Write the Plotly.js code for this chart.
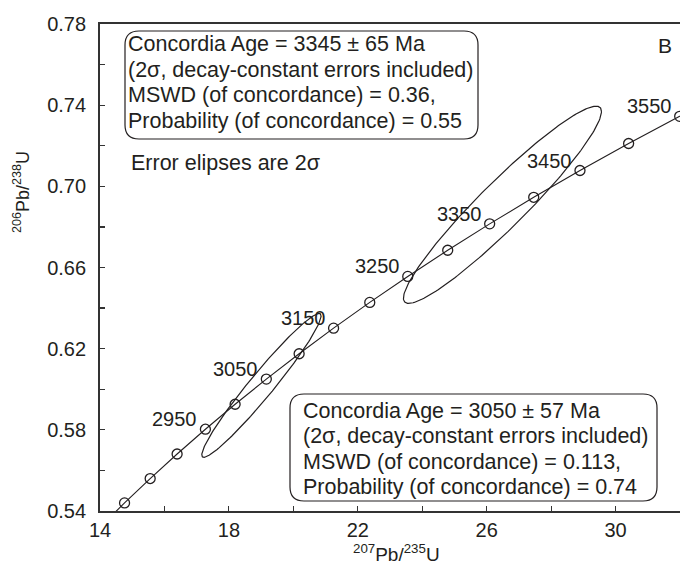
<!DOCTYPE html>
<html>
<head>
<meta charset="utf-8">
<script src="https://cdn.plot.ly/plotly-3.0.1.min.js"></script>
<style>html,body{margin:0;padding:0;background:#fff;}#chart{width:680px;height:566px;}</style>
</head>
<body>
<div id="chart"></div>
<script>
// Concordia nodes (Ma) and their ratios
const ages = [2750, 2800, 2850, 2900, 2950, 3000, 3050, 3100, 3150, 3200, 3250, 3300, 3350, 3400, 3450, 3500, 3550, 3600];
const pb207u235 = [14.004, 14.762, 15.557, 16.393, 17.271, 18.193, 19.162, 20.180, 21.249, 22.372, 23.551, 24.791, 26.093, 27.460, 28.896, 30.405, 31.990, 33.656];
const pb206u238 = [0.5320, 0.5440, 0.5560, 0.5681, 0.5803, 0.5926, 0.6050, 0.6175, 0.6301, 0.6428, 0.6556, 0.6685, 0.6815, 0.6946, 0.7078, 0.7211, 0.7345, 0.7480];
const labelAges = [2950, 3050, 3150, 3250, 3350, 3450, 3550];

// Error ellipses: centre, 2-sigma half extents, correlation
const ellCx = [19.01, 26.49];
const ellCy = [0.6019, 0.6909];
const ellSx = [1.851, 3.073];
const ellSy = [0.03544, 0.0486];
const ellRho = [0.966, 0.946];

const box1Lines = ["Concordia Age = 3345 ± 65 Ma", "(2σ, decay-constant errors included)", "MSWD (of concordance) = 0.36,", "Probability (of concordance) = 0.55"];
const box2Lines = ["Concordia Age = 3050 ± 57 Ma", "(2σ, decay-constant errors included)", "MSWD (of concordance) = 0.113,", "Probability (of concordance) = 0.74"];
const noteText = "Error elipses are 2σ";
const panelText = "B";
const xTitle = "<sup>207</sup>Pb/<sup>235</sup>U";
const yTitle = "<sup>206</sup>Pb/<sup>238</sup>U";

const FONT = "Liberation Sans, Arial, sans-serif";
const TXT = "#231f20";
const L = 100, R = 0, T = 24, B = 55;
const PW = 680 - L - R, PH = 566 - T - B;
const px = v => (v - L) / PW;
const py = v => (566 - B - v) / PH;

const traces = [];
for (let k = 0; k < ellCx.length; k++) {
  const ex = [], ey = [];
  const s = Math.sqrt(1 - ellRho[k] * ellRho[k]);
  for (let i = 0; i <= 240; i++) {
    const th = i / 240 * 2 * Math.PI;
    ex.push(ellCx[k] + ellSx[k] * Math.cos(th));
    ey.push(ellCy[k] + ellSy[k] * (ellRho[k] * Math.cos(th) + s * Math.sin(th)));
  }
  traces.push({x: ex, y: ey, mode: 'lines', line: {color: TXT, width: 1.2}, hoverinfo: 'skip', showlegend: false});
}
traces.push({
  x: pb207u235, y: pb206u238, mode: 'lines+markers',
  line: {color: TXT, width: 1.1},
  marker: {symbol: 'circle-open', size: 10, color: TXT, line: {width: 1.3, color: TXT}},
  showlegend: false, cliponaxis: true
});

const annotations = labelAges.map(a => {
  const i = ages.indexOf(a);
  return {x: pb207u235[i], y: pb206u238[i], xref: 'x', yref: 'y', text: String(a), showarrow: false,
    xanchor: 'right', yanchor: 'middle', xshift: -6, yshift: 10, font: {family: FONT, size: 20, color: TXT}};
});
function addLines(lines, xPx, yPx0, step) {
  lines.forEach((t, j) => annotations.push({xref: 'paper', yref: 'paper', x: px(xPx), y: py(yPx0 + j * step),
    xanchor: 'left', yanchor: 'middle', align: 'left', text: t, showarrow: false,
    font: {family: FONT, size: 21.5, color: TXT}}));
}
addLines(box1Lines, 126, 44, 25.7);
addLines(box2Lines, 301, 411, 25.3);
annotations.push({xref: 'paper', yref: 'paper', x: px(129), y: py(163), xanchor: 'left', yanchor: 'middle',
  text: noteText, showarrow: false, font: {family: FONT, size: 21.5, color: TXT}});
annotations.push({xref: 'paper', yref: 'paper', x: px(665), y: py(45), xanchor: 'center', yanchor: 'middle',
  text: panelText, showarrow: false, font: {family: FONT, size: 21, color: TXT}});
annotations.push({xref: 'paper', yref: 'paper', x: px(396), y: py(553), xanchor: 'center', yanchor: 'middle',
  text: xTitle, showarrow: false, font: {family: FONT, size: 19, color: TXT}});
annotations.push({xref: 'paper', yref: 'paper', x: px(21), y: py(192), xanchor: 'center', yanchor: 'middle', textangle: -90,
  text: yTitle, showarrow: false, font: {family: FONT, size: 18, color: TXT}});

function rrect(x0p, y0p, x1p, y1p, r) {
  const x0 = px(x0p), x1 = px(x1p), yt = py(y0p), yb = py(y1p);
  const rx = r / PW, ry = r / PH;
  return `M${x0 + rx},${yt} L${x1 - rx},${yt} Q${x1},${yt} ${x1},${yt - ry} L${x1},${yb + ry} Q${x1},${yb} ${x1 - rx},${yb} ` +
         `L${x0 + rx},${yb} Q${x0},${yb} ${x0},${yb + ry} L${x0},${yt - ry} Q${x0},${yt} ${x0 + rx},${yt} Z`;
}
const shapes = [
  {type: 'path', xref: 'paper', yref: 'paper', path: rrect(125, 31, 478, 139, 14), line: {color: TXT, width: 1.2}},
  {type: 'path', xref: 'paper', yref: 'paper', path: rrect(290, 394, 657, 501, 14), line: {color: TXT, width: 1.2}}
];

const axisCommon = {
  showline: true, linecolor: '#333', linewidth: 1.6, mirror: true, showgrid: false, zeroline: false,
  ticks: 'inside', ticklen: 5, tickwidth: 1.2, tickcolor: '#333',
  tickfont: {family: FONT, size: 20, color: TXT}
};
const layout = {
  width: 680, height: 566,
  margin: {l: L, r: R, t: T, b: B},
  paper_bgcolor: '#fff', plot_bgcolor: '#fff',
  showlegend: false,
  xaxis: Object.assign({}, axisCommon, {range: [14, 32], tick0: 14, dtick: 4,
    minor: {dtick: 2, tick0: 14, ticks: 'inside', ticklen: 5, tickwidth: 1.2, tickcolor: '#333'}}),
  yaxis: Object.assign({}, axisCommon, {range: [0.54, 0.78], tick0: 0.54, dtick: 0.04, tickformat: '.2f',
    ticksuffix: '\u2005\u2006',
    minor: {dtick: 0.02, tick0: 0.54, ticks: 'inside', ticklen: 5, tickwidth: 1.2, tickcolor: '#333'}}),
  annotations: annotations,
  shapes: shapes
};
Plotly.newPlot('chart', traces, layout, {staticPlot: true, displayModeBar: false});
</script>
</body>
</html>
